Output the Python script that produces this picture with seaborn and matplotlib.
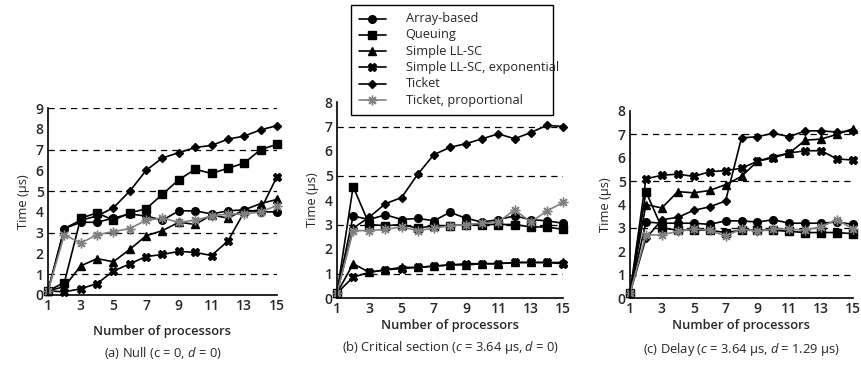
import numpy as np
import pandas as pd
import matplotlib
matplotlib.use("Agg")
import matplotlib.pyplot as plt
from matplotlib.lines import Line2D
from matplotlib import font_manager
import seaborn as sns

sns.set_style("white")
plt.rcParams['font.family'] = ['Open Sans', 'DejaVu Sans']
plt.rcParams['mathtext.fontset'] = 'custom'
plt.rcParams['mathtext.rm'] = 'Open Sans'
plt.rcParams['mathtext.it'] = 'Open Sans:italic'

processors = list(range(1, 16))
series_names = ["Array-based", "Queuing", "Simple LL-SC",
                "Simple LL-SC, exponential", "Ticket", "Ticket, proportional"]

# Panel (a) Null
a_array = [0.2, 3.2, 3.5, 3.5, 3.7, 3.9, 3.8, 3.6, 4.05, 4.05, 3.9, 4.05, 4.1, 4.0, 4.0]
a_queue = [0.2, 0.6, 3.7, 3.95, 3.6, 3.95, 4.15, 4.85, 5.55, 6.05, 5.85, 6.1, 6.35, 7.0, 7.25]
a_llsc = [0.2, 0.4, 1.4, 1.75, 1.6, 2.2, 2.85, 3.1, 3.5, 3.4, 3.85, 3.7, 4.1, 4.4, 4.6]
a_llsc_exp = [0.2, 0.15, 0.3, 0.55, 1.15, 1.5, 1.85, 1.95, 2.1, 2.05, 1.9, 2.6, 4.0, 4.1, 5.7]
a_ticket = [0.2, 3.2, 3.6, 3.8, 4.2, 5.0, 6.0, 6.6, 6.85, 7.1, 7.2, 7.5, 7.65, 7.95, 8.15]
a_ticket_prop = [0.2, 2.9, 2.5, 2.9, 3.05, 3.2, 3.6, 3.7, 3.5, 3.6, 3.8, 3.9, 3.9, 4.0, 4.3]

# Panel (b) Critical section
b_array = [0.2, 3.35, 3.2, 3.4, 3.2, 3.25, 3.15, 3.5, 3.25, 3.1, 3.2, 3.35, 3.2, 3.15, 3.05]
b_queue = [0.2, 4.55, 3.0, 2.95, 3.0, 2.85, 2.95, 2.95, 3.0, 3.0, 3.0, 3.0, 2.9, 2.9, 2.8]
b_llsc = [0.2, 1.4, 1.05, 1.15, 1.25, 1.25, 1.3, 1.35, 1.35, 1.4, 1.4, 1.45, 1.45, 1.45, 1.45]
b_llsc_exp = [0.2, 0.85, 1.05, 1.15, 1.2, 1.25, 1.3, 1.35, 1.4, 1.4, 1.4, 1.45, 1.45, 1.45, 1.4]
b_ticket = [0.2, 2.85, 3.3, 3.85, 4.1, 5.05, 5.85, 6.15, 6.3, 6.5, 6.7, 6.5, 6.75, 7.05, 7.0]
b_ticket_prop = [0.2, 2.75, 2.75, 2.8, 2.9, 2.75, 2.85, 2.95, 3.0, 3.05, 3.1, 3.6, 3.1, 3.55, 3.9]

# Panel (c) Delay
c_array = [0.2, 3.25, 3.2, 3.2, 3.2, 3.15, 3.3, 3.3, 3.25, 3.35, 3.2, 3.2, 3.2, 3.25, 3.15]
c_queue = [0.2, 4.55, 3.0, 2.9, 2.9, 2.9, 2.8, 2.9, 2.9, 2.9, 2.85, 2.8, 2.8, 2.8, 2.75]
c_llsc = [0.2, 4.0, 3.85, 4.55, 4.5, 4.6, 4.85, 5.2, 5.85, 6.05, 6.2, 6.75, 6.8, 7.0, 7.25]
c_llsc_exp = [0.2, 5.1, 5.25, 5.3, 5.2, 5.4, 5.45, 5.55, 5.85, 6.0, 6.2, 6.3, 6.3, 5.95, 5.9]
c_ticket = [0.2, 2.55, 3.35, 3.45, 3.75, 3.9, 4.15, 6.85, 6.9, 7.05, 6.9, 7.15, 7.15, 7.1, 7.15]
c_ticket_prop = [0.2, 2.7, 2.7, 2.85, 2.95, 2.9, 2.65, 2.95, 2.85, 2.95, 2.95, 2.9, 3.05, 3.35, 2.95]

panels = [
    dict(data=[a_array, a_queue, a_llsc, a_llsc_exp, a_ticket, a_ticket_prop], ymax=9,
         grid=[1, 3, 5, 7, 9],
         caption=r"(a) Null (c = 0, $\it{d}$ = 0)",
         pos=[48/861, 1-295/368, 229/861, 187/368], xl_px=37, cap_px=58),
    dict(data=[b_array, b_queue, b_llsc, b_llsc_exp, b_ticket, b_ticket_prop], ymax=8,
         grid=[1, 3, 5, 7],
         caption=r"(b) Critical section ($\it{c}$ = 3.64 μs, $\it{d}$ = 0)",
         pos=[337/861, 1-298/368, 226/861, 196/368], xl_px=27, cap_px=50),
    dict(data=[c_array, c_queue, c_llsc, c_llsc_exp, c_ticket, c_ticket_prop], ymax=8,
         grid=[1, 3, 5, 7],
         caption=r"(c) Delay ($\it{c}$ = 3.64 μs, $\it{d}$ = 1.29 μs)",
         pos=[630/861, 1-298/368, 223/861, 187/368], xl_px=27, cap_px=52),
]

styles = [
    dict(marker='o', color='black', ms=5.5),
    dict(marker='s', color='black', ms=5.5),
    dict(marker='^', color='black', ms=5.5),
    dict(marker='X', color='black', ms=6),
    dict(marker='D', color='black', ms=4),
    dict(marker=(8, 2, 0), color='#808080', ms=7),
]

FS = 9.3
FW = 'semibold'
LEG_FS = 9.2
fig = plt.figure(figsize=(8.61, 3.68), dpi=100)

for p in panels:
    ax = fig.add_axes(p['pos'])
    for g in p['grid']:
        ax.axhline(g, color='black', lw=0.9, ls=(0, (5, 4)), zorder=0)
    for name, vals, st in zip(series_names, p['data'], styles):
        df = pd.DataFrame({'n': processors, 't': vals})
        sns.lineplot(data=df, x='n', y='t', ax=ax, color=st['color'], lw=1.2,
                     marker=st['marker'], markersize=st['ms'],
                     markeredgecolor=st['color'], markerfacecolor=st['color'],
                     markeredgewidth=1.0, clip_on=False, legend=False)
    ax.set_xlim(1, 15)
    ax.set_ylim(0, p['ymax'])
    ax.set_xticks(list(range(1, 16, 2)))
    ax.set_xticks(list(range(2, 15, 2)), minor=True)
    ax.set_yticks(list(range(0, p['ymax'] + 1)))
    ax.tick_params(axis='both', which='both', direction='in', length=5, width=1,
                   color='black', labelsize=FS + 0.7, pad=3)
    for lab in ax.get_xticklabels() + ax.get_yticklabels():
        lab.set_fontweight(FW)
    for s in ['top', 'right']:
        ax.spines[s].set_visible(False)
    for s in ['left', 'bottom']:
        ax.spines[s].set_color('black')
        ax.spines[s].set_linewidth(1.2)
    h = p['pos'][3] * 368
    ax.set_xlabel("Number of processors", fontsize=FS, fontweight=FW)
    ax.set_ylabel("Time (μs)", fontsize=FS, fontweight='normal')
    ax.xaxis.set_label_coords(0.5, -p['xl_px'] / h)
    ax.xaxis.label.set_va('center')
    ax.text(0.5, -p['cap_px'] / h, p['caption'], transform=ax.transAxes,
            ha='center', va='center', fontsize=FS)

handles = [Line2D([0], [0], color=st['color'], lw=1.2, marker=st['marker'],
                  markersize=st['ms'], markeredgecolor=st['color'],
                  markerfacecolor=st['color']) for st in styles]
leg = fig.legend(handles, series_names, loc='upper left',
                 bbox_to_anchor=(351/861, 1-5/368), frameon=True,
                 fancybox=False, edgecolor='black', framealpha=1,
                 prop=font_manager.FontProperties(family=['Open Sans', 'DejaVu Sans'], size=8.5),
                 labelspacing=0.28, handlelength=2.3, borderpad=0.65,
                 handletextpad=1.6, borderaxespad=0)
leg.get_frame().set_linewidth(1.0)

# Legend labels drawn as left-aligned figure texts, placed from the legend's handle lines
fig.canvas.draw()
r = fig.canvas.get_renderer()
inv = fig.transFigure.inverted()
hl = leg.legend_handles
hx1 = max(hh.get_window_extent(r).x1 for hh in hl)
pad_px = 1.6 * 8.5 * fig.dpi / 72.0 - 4
for hh, t in zip(hl, leg.get_texts()):
    bb = hh.get_window_extent(r)
    x0, yc = inv.transform((hx1 + pad_px, (bb.y0 + bb.y1) / 2))
    fig.text(x0, yc, t.get_text(), ha='left', va='center', fontsize=LEG_FS,
             family=['Open Sans', 'DejaVu Sans'], zorder=10)
    t.set_alpha(0)

fig.savefig("out.png", dpi=100)
